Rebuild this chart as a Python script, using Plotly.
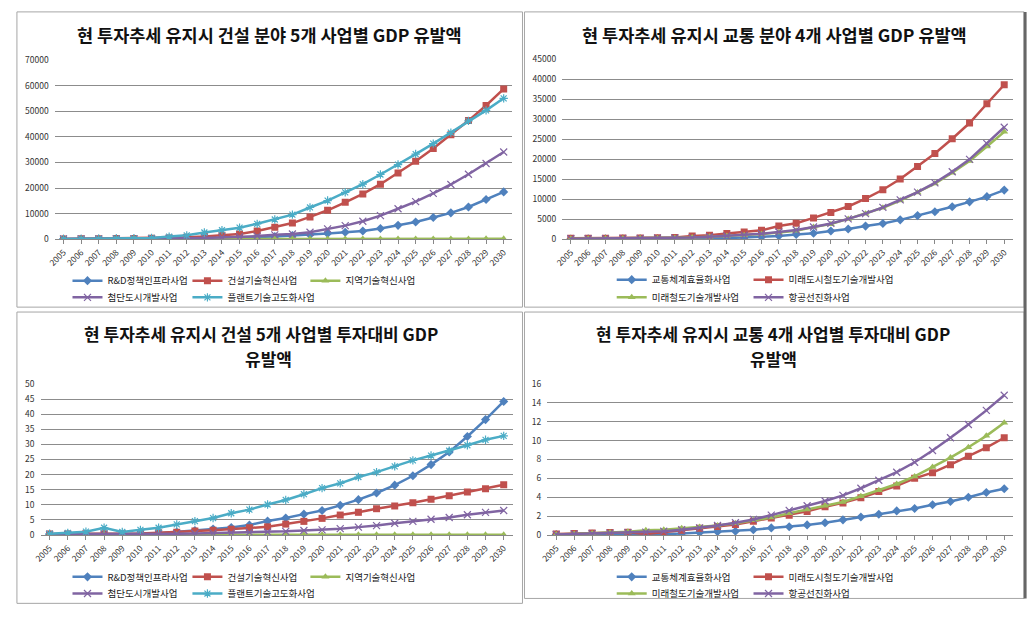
import plotly.graph_objects as go

W, H = 1035, 626
FONT = "Noto Sans CJK KR"

years = ["2005", "2006", "2007", "2008", "2009", "2010", "2011", "2012", "2013",
         "2014", "2015", "2016", "2017", "2018", "2019", "2020", "2021", "2022",
         "2023", "2024", "2025", "2026", "2027", "2028", "2029", "2030"]

# ---- Panel 1: construction, GDP induced ----
c_names = ["R&D정책인프라사업", "건설기술혁신사업", "지역기술혁신사업", "첨단도시개발사업", "플랜트기술고도화사업"]
c_gdp_rd = [50, 60, 80, 100, 120, 150, 200, 300, 400, 500, 600, 800, 1000, 1400, 1700, 2200,
            2700, 3200, 4200, 5400, 6700, 8500, 10300, 12600, 15500, 18500]
c_gdp_tech = [100, 150, 200, 250, 300, 350, 500, 700, 1000, 1500, 2000, 3200, 4700, 6300, 8700,
              11300, 14400, 17700, 21500, 25900, 30500, 35500, 40900, 46400, 52300, 58800]
c_gdp_region = [10, 10, 15, 15, 20, 20, 25, 30, 35, 40, 45, 50, 55, 60, 65, 70, 75, 80, 85, 90,
                95, 100, 105, 110, 115, 120]
c_gdp_city = [50, 60, 80, 100, 120, 150, 300, 400, 500, 700, 900, 1200, 1700, 2000, 2700, 4000,
              5300, 7000, 9200, 11900, 14700, 17900, 21400, 25400, 29600, 34100]
c_gdp_plant = [50, 100, 150, 250, 300, 500, 1000, 1500, 2600, 3500, 4500, 6000, 7700, 9600, 12400,
               15100, 18300, 21500, 25300, 29200, 33300, 37400, 41700, 46300, 50400, 55100]

# ---- Panel 2: transport, GDP induced ----
t_names = ["교통체계효율화사업", "미래도시철도기술개발사업", "미래철도기술개발사업", "항공선진화사업"]
t_gdp_eff = [50, 60, 70, 80, 100, 120, 150, 200, 250, 300, 400, 550, 820, 1150, 1470, 2050, 2540,
             3270, 3930, 4830, 5890, 6870, 8100, 9330, 10640, 12280]
t_gdp_urban = [200, 220, 250, 280, 300, 350, 400, 800, 980, 1400, 1800, 2200, 3270, 4000, 5320,
               6700, 8180, 10150, 12360, 15060, 18170, 21440, 25120, 29050, 33880, 38630]
t_gdp_rail = [100, 120, 150, 180, 200, 250, 300, 400, 600, 800, 1000, 1300, 1640, 2130, 3030, 3760,
              5070, 6380, 7860, 9660, 11700, 13900, 16600, 19560, 23160, 26840]
t_gdp_air = [100, 120, 150, 180, 200, 250, 300, 400, 600, 800, 1000, 1350, 1800, 2290, 3030, 3930,
             5070, 6380, 7940, 9820, 11780, 14080, 16860, 19970, 23900, 27990]

# ---- Panel 3: construction, GDP per investment ----
c_ratio_rd = [0.2, 0.2, 0.3, 0.3, 0.3, 0.4, 0.6, 1.0, 1.5, 2.0, 2.5, 3.3, 4.6, 5.6, 6.9, 8.1, 9.8,
              11.7, 13.9, 16.5, 19.6, 23.3, 27.5, 32.6, 38.2, 44.2]
c_ratio_tech = [0.3, 0.3, 0.4, 0.4, 0.4, 0.5, 0.7, 0.9, 1.3, 1.6, 1.9, 2.4, 2.7, 3.6, 4.5, 5.5, 6.6,
                7.5, 8.7, 9.6, 10.7, 11.8, 13.0, 14.2, 15.3, 16.6]
c_ratio_region = [0.05, 0.05, 0.05, 0.05, 0.05, 0.05, 0.05, 0.05, 0.05, 0.05, 0.05, 0.05, 0.05,
                  0.05, 0.05, 0.05, 0.05, 0.05, 0.05, 0.05, 0.05, 0.05, 0.05, 0.05, 0.05, 0.05]
c_ratio_city = [0.2, 0.2, 0.2, 0.3, 0.3, 0.3, 0.4, 0.4, 0.5, 0.6, 0.7, 0.9, 1.0, 1.2, 1.5, 1.7, 2.1,
                2.6, 3.1, 3.9, 4.5, 5.2, 5.8, 6.7, 7.5, 8.1]
c_ratio_plant = [0.4, 0.7, 1.1, 2.4, 1.0, 1.7, 2.4, 3.5, 4.6, 5.6, 7.2, 8.4, 10.1, 11.6, 13.5, 15.5,
                 17.1, 19.2, 20.8, 22.7, 24.7, 26.3, 27.9, 29.7, 31.5, 32.8]

# ---- Panel 4: transport, GDP per investment ----
t_ratio_eff = [0.05, 0.05, 0.1, 0.1, 0.1, 0.05, 0.1, 0.15, 0.25, 0.35, 0.4, 0.55, 0.75, 0.87, 1.07,
               1.3, 1.6, 1.9, 2.2, 2.55, 2.8, 3.2, 3.55, 4.0, 4.5, 4.9]
t_ratio_urban = [0.1, 0.15, 0.2, 0.25, 0.3, 0.1, 0.3, 0.5, 0.7, 0.9, 1.1, 1.45, 1.8, 2.1, 2.5, 3.0,
                 3.4, 3.95, 4.6, 5.2, 6.0, 6.6, 7.45, 8.35, 9.25, 10.3]
t_ratio_rail = [0.05, 0.1, 0.15, 0.25, 0.35, 0.5, 0.55, 0.7, 0.85, 1.0, 1.25, 1.55, 1.85, 2.3, 2.7,
                3.1, 3.5, 4.1, 4.75, 5.4, 6.2, 7.2, 8.2, 9.3, 10.5, 11.9]
t_ratio_air = [0.05, 0.1, 0.15, 0.2, 0.25, 0.3, 0.4, 0.55, 0.75, 1.0, 1.3, 1.65, 2.1, 2.6, 3.1, 3.6,
               4.2, 4.95, 5.8, 6.65, 7.7, 8.95, 10.3, 11.7, 13.2, 14.8]

# title lines per panel
titles = [["현 투자추세 유지시 건설 분야 5개 사업별 GDP 유발액"],
          ["현 투자추세 유지시 교통 분야 4개 사업별 GDP 유발액"],
          ["현 투자추세 유지시 건설 5개 사업별 투자대비 GDP", "유발액"],
          ["현 투자추세 유지시 교통 4개 사업별 투자대비 GDP", "유발액"]]

BLUE, RED, GREEN, PURPLE, CYAN = "#4F81BD", "#C0504D", "#9BBB59", "#8064A2", "#4BACC6"
c_styles = [(BLUE, "diamond", 7), (RED, "square", 7), (GREEN, "triangle-up", 7),
            (PURPLE, "x-thin-open", 7), (CYAN, "asterisk-open", 7)]
t_styles = [(BLUE, "diamond", 7), (RED, "square", 7), (GREEN, "triangle-up", 7),
            (PURPLE, "x-thin-open", 7)]


def fx(px):
    return px / W


def fy(py):
    return 1 - py / H


fig = go.Figure()

panels = [
    # (axis suffix, names, series, styles, x px range, y px range, ymax, dtick,
    #  legend row y px, legend column text x px)
    ("", c_names, [c_gdp_rd, c_gdp_tech, c_gdp_region, c_gdp_city, c_gdp_plant], c_styles,
     (46.1, 507.9), (54.3, 236.7), 70000, 10000, (279, 296), (107, 228, 347)),
    ("2", t_names, [t_gdp_eff, t_gdp_urban, t_gdp_rail, t_gdp_air], t_styles,
     (558.0, 1012.7), (53.3, 236.7), 45000, 5000, (278, 296), (656, 794)),
    ("3", c_names, [c_ratio_rd, c_ratio_tech, c_ratio_region, c_ratio_city, c_ratio_plant], c_styles,
     (31.8, 508.2), (384.3, 538.3), 50, 5, (581, 598), (107, 228, 347)),
    ("4", t_names, [t_ratio_eff, t_ratio_urban, t_ratio_rail, t_ratio_air], t_styles,
     (543.0, 1013.0), (384.3, 538.3), 16, 2, (581, 598), (656, 794)),
]

legend_count = 0
for suf, names, series, styles, xr, yr, ymax, dtick, lrows, lcols in panels:
    ncols = len(lcols)
    for i, (nm, vals, (col, sym, ms)) in enumerate(zip(names, series, styles)):
        legend_count += 1
        lname = "legend" if legend_count == 1 else f"legend{legend_count}"
        fig.update_layout({lname: dict(
            x=fx(lcols[i % ncols] - 48), y=fy(lrows[i // ncols]), xanchor="left", yanchor="middle",
            orientation="h", bgcolor="rgba(0,0,0,0)", borderwidth=0, itemwidth=30,
            font=dict(family=FONT, size=9.5, color="#222"),
            itemclick=False, itemdoubleclick=False)})
        open_sym = sym.endswith("open")
        fig.add_trace(go.Scatter(
            x=years, y=vals, name=nm, mode="lines+markers",
            xaxis="x" + suf, yaxis="y" + suf,
            line=dict(color=col, width=2.5),
            marker=dict(symbol=sym, size=ms, color=col,
                        line=dict(color=col, width=1.2 if open_sym else 0)),
            legend=lname,
        ))
    fig.update_layout({
        "xaxis" + suf: dict(
            domain=[fx(xr[0]), fx(xr[1])], anchor="y" + suf, type="category",
            range=[-0.5, len(years) - 0.5], tickangle=-45,
            tickfont=dict(family=FONT, size=8.5, color="#333"),
            ticks="outside", ticklen=4, tickcolor="#888", showgrid=False,
            showline=True, linecolor="#888", linewidth=1, fixedrange=True),
        "yaxis" + suf: dict(
            domain=[fy(yr[1]), fy(yr[0])], anchor="x" + suf, range=[0, ymax], dtick=dtick,
            tickformat="d",
            tickfont=dict(family=FONT, size=8.5, color="#333"),
            showgrid=True, gridcolor="#8c8c8c", gridwidth=1, zeroline=False,
            showline=False, ticks="", ticklabelstandoff=5, fixedrange=True),
    })

# titles: (center x px per line, center y px per line)
title_pos = [([263], [28]), ([772], [28]), ([254, 262], [333, 358]), ([771, 771], [333, 358])]
for lines, (cxs, ys) in zip(titles, title_pos):
    for line, cx, cy in zip(lines, cxs, ys):
        fig.add_annotation(text=f"<b>{line}</b>", x=fx(cx), y=fy(cy), xref="paper", yref="paper",
                           xanchor="center", yanchor="middle", showarrow=False,
                           font=dict(family=FONT, size=17.5 if len(lines) == 1 else 17, color="#111"))

# panel frames
frames = [(8, 5, 518, 306), (520, 5, 1024, 306), (8, 311, 518, 608), (520, 311, 1024, 603)]
for (x0, y0, x1, y1) in frames:
    fig.add_shape(type="rect", xref="paper", yref="paper", x0=fx(x0), x1=fx(x1),
                  y0=fy(y1), y1=fy(y0), line=dict(color="#a6a6a6", width=1))
fig.add_shape(type="line", xref="paper", yref="paper", x0=fx(1025), x1=fx(1025),
              y0=fy(603), y1=fy(5), line=dict(color="#666", width=3))

fig.update_layout(width=W, height=H, margin=dict(l=0, r=0, t=0, b=0),
                  paper_bgcolor="white", plot_bgcolor="white", showlegend=True,
                  font=dict(family=FONT))

fig.write_html("out.html")
